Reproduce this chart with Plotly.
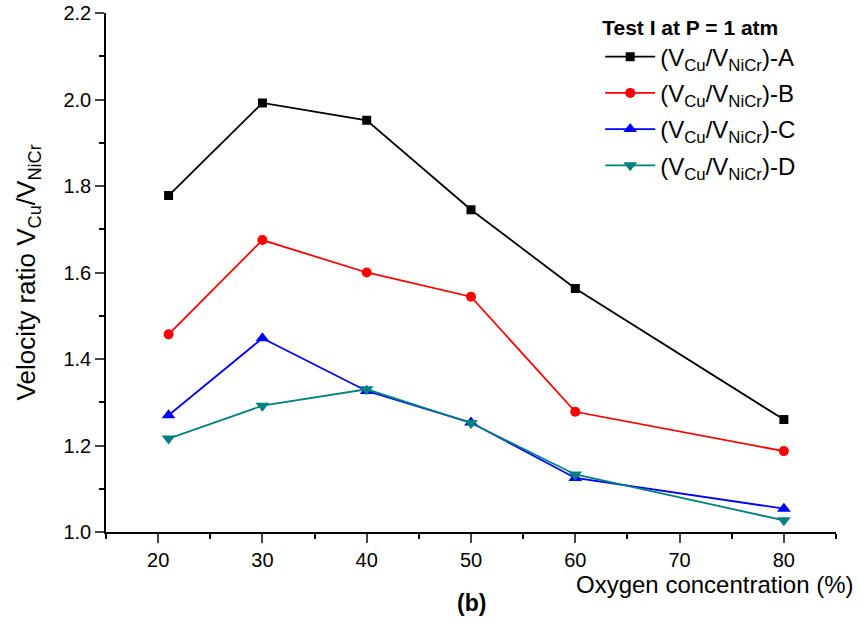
import plotly.graph_objects as go

oxygen = [21, 30, 40, 50, 60, 80]
ratio_A = [1.778, 1.992, 1.952, 1.745, 1.563, 1.260]
ratio_B = [1.457, 1.675, 1.600, 1.544, 1.278, 1.187]
ratio_C = [1.270, 1.448, 1.326, 1.253, 1.125, 1.054]
ratio_D = [1.216, 1.292, 1.330, 1.252, 1.133, 1.027]
series_names = ["(V<sub>Cu</sub>/V<sub>NiCr</sub>)-A", "(V<sub>Cu</sub>/V<sub>NiCr</sub>)-B",
                "(V<sub>Cu</sub>/V<sub>NiCr</sub>)-C", "(V<sub>Cu</sub>/V<sub>NiCr</sub>)-D"]
colors = ["#000000", "#FF0000", "#0000FF", "#008080"]
symbols = ["square", "circle", "triangle-up", "triangle-down"]
sizes = [9, 10, 12, 12]
x_ticks = [20, 30, 40, 50, 60, 70, 80]
y_ticks = [1.0, 1.2, 1.4, 1.6, 1.8, 2.0, 2.2]

FONT = "Arial, Liberation Sans, sans-serif"

fig = go.Figure()
for i, (ys, name, c, s, sz) in enumerate(zip([ratio_A, ratio_B, ratio_C, ratio_D], series_names, colors, symbols, sizes)):
    fig.add_trace(go.Scatter(x=oxygen, y=ys, name=name, mode="lines+markers", legendgroup="g%d" % i,
                             line=dict(color=c, width=1.8),
                             marker=dict(symbol=s, size=sz, color=c)))

fig.update_layout(
    width=859, height=621,
    margin=dict(l=106, r=23, t=13, b=89, autoexpand=False),
    paper_bgcolor="white", plot_bgcolor="white",
    font=dict(family=FONT, size=20, color="black"),
    showlegend=True,
    legend=dict(x=0.677, y=1.011, xanchor="left", yanchor="top", itemwidth=50,
                bgcolor="rgba(0,0,0,0)", font=dict(size=24),
                title=dict(text="<b>Test I at P = 1 atm</b>", font=dict(size=21)),
                tracegroupgap=2),
    xaxis=dict(range=[15, 85], tickvals=x_ticks, ticks="outside", ticklen=9, tickwidth=1.5,
               showline=True, linecolor="black", linewidth=1.5, showgrid=False, zeroline=False,
               automargin=False, ticklabeloverflow="allow",
               minor=dict(dtick=5, tick0=15, ticks="outside", ticklen=5, tickwidth=1.5, tickcolor="black"),
               tickfont=dict(size=20)),
    yaxis=dict(range=[1.0, 2.2], tickvals=y_ticks, ticktext=["%.1f" % v for v in y_ticks],
               ticks="outside", ticklen=9, tickwidth=1.5,
               showline=True, linecolor="black", linewidth=1.5, showgrid=False, zeroline=False,
               automargin=False, ticklabeloverflow="allow",
               minor=dict(dtick=0.1, tick0=1.0, ticks="outside", ticklen=5, tickwidth=1.5, tickcolor="black"),
               tickfont=dict(size=20)),
)

fig.add_annotation(text="Velocity ratio V<sub>Cu</sub>/V<sub>NiCr</sub>", xref="paper", yref="paper",
                   x=-0.107, y=0.5, xanchor="center", yanchor="middle", textangle=-90,
                   showarrow=False, font=dict(size=26))
fig.add_annotation(text="Oxygen concentration (%)", xref="paper", yref="paper", x=1.026, y=-0.102,
                   xanchor="right", yanchor="middle", showarrow=False, font=dict(size=24))
fig.add_annotation(text="<b>(b)</b>", xref="paper", yref="paper", x=0.501, y=-0.137,
                   xanchor="center", yanchor="middle", showarrow=False, font=dict(size=23))

# remove the browser's default 8px body margin so the figure fills the window
fig.write_html("out.html", config={"displayModeBar": False},
               post_script="document.body.style.margin='0px';")
